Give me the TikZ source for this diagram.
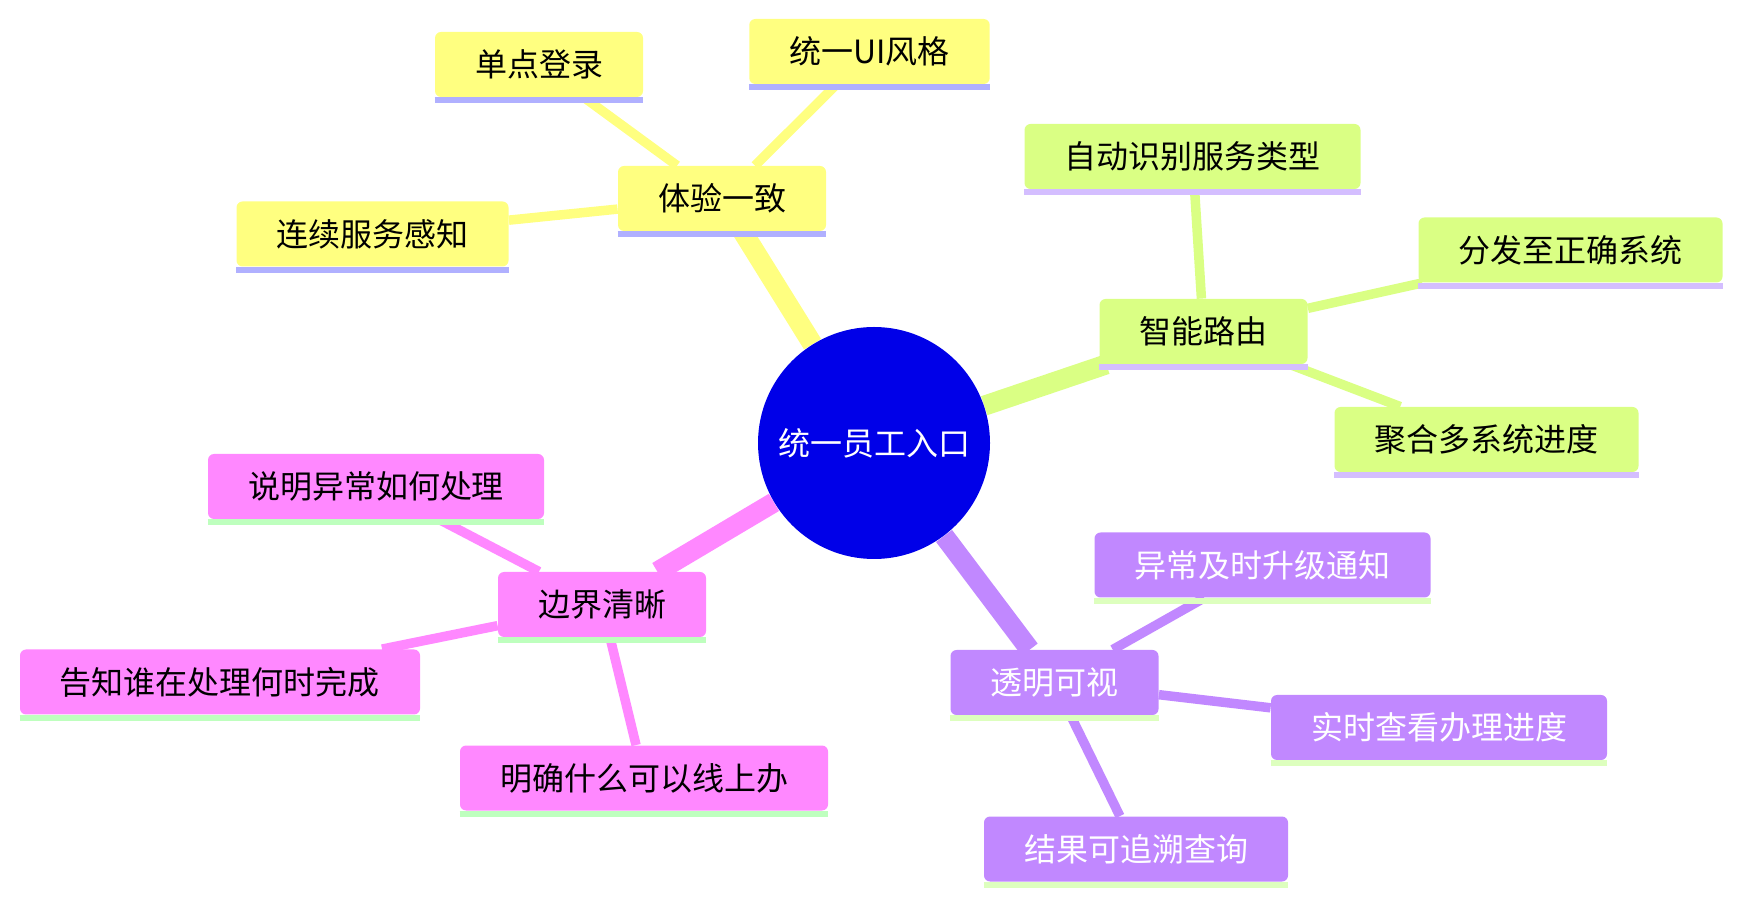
\documentclass[tikz,border=0pt]{standalone}
\usepackage{fontspec}
\newfontfamily\cjk{Noto Sans CJK SC}
\usepackage{tikz}
\usetikzlibrary{backgrounds}
\definecolor{rootblue}{RGB}{0,0,232}
\definecolor{yellowfill}{RGB}{255,255,128}
\definecolor{yellowbar}{RGB}{176,176,255}
\definecolor{greenfill}{RGB}{218,255,132}
\definecolor{greenbar}{RGB}{212,190,255}
\definecolor{purplefill}{RGB}{193,136,255}
\definecolor{purplebar}{RGB}{221,255,190}
\definecolor{pinkfill}{RGB}{255,136,255}
\definecolor{pinkbar}{RGB}{190,255,190}
\tikzset{
  root/.style={
    circle, fill=rootblue, minimum size=116pt, inner sep=0pt,
    font=\cjk\fontsize{16}{19}\selectfont, text=white
  },
  topic/.style={
    rectangle, rounded corners=3pt, minimum height=32.5pt,
    inner xsep=20pt, inner ysep=0pt, font=\cjk\fontsize{16}{19}\selectfont
  },
  ytopic/.style={topic, fill=yellowfill, text=black},
  gtopic/.style={topic, fill=greenfill, text=black},
  ptopic/.style={topic, fill=purplefill, text=white},
  mtopic/.style={topic, fill=pinkfill, text=black},
  trunk/.style={draw=#1, line width=10pt},
  twig/.style={draw=#1, line width=4.75pt},
}
\begin{document}
\begin{tikzpicture}[x=0.5pt, y=-0.5pt]
  \useasboundingbox (0,0) rectangle (1742,903);
  \node[root] (entry) at (874,443) {统一员工入口};
  % experience branch
  \node[ytopic] (tiyan) at (722,198.5) {体验一致};
  \node[ytopic] (sso) at (539,64.5) {单点登录};
  \node[ytopic] (uistyle) at (869.5,51.5) {统一UI风格};
  \node[ytopic] (aware) at (372.5,234) {连续服务感知};
  % routing branch
  \node[gtopic] (route) at (1203.5,331.5) {智能路由};
  \node[gtopic] (detect) at (1192.5,156.5) {自动识别服务类型};
  \node[gtopic] (dispatch) at (1570.5,250) {分发至正确系统};
  \node[gtopic] (merge) at (1486.5,439.5) {聚合多系统进度};
  % transparency branch
  \node[ptopic] (visible) at (1054.5,682.5) {透明可视};
  \node[ptopic] (alert) at (1262.5,565) {异常及时升级通知};
  \node[ptopic] (progress) at (1439,727.5) {实时查看办理进度};
  \node[ptopic] (trace) at (1136,849) {结果可追溯查询};
  % boundary branch
  \node[mtopic] (bound) at (602,604.5) {边界清晰};
  \node[mtopic] (explain) at (376,486.5) {说明异常如何处理};
  \node[mtopic] (inform) at (220,682) {告知谁在处理何时完成};
  \node[mtopic] (online) at (644,778) {明确什么可以线上办};

  \foreach \n/\c in {tiyan/yellowbar, sso/yellowbar, uistyle/yellowbar, aware/yellowbar,
                     route/greenbar, detect/greenbar, dispatch/greenbar, merge/greenbar,
                     visible/purplebar, alert/purplebar, progress/purplebar, trace/purplebar,
                     bound/pinkbar, explain/pinkbar, inform/pinkbar, online/pinkbar}
    \draw[\c, line width=3pt] ([yshift=-1.5pt]\n.south west) -- ([yshift=-1.5pt]\n.south east);

  \begin{pgfonlayer}{background}
    \draw[trunk=yellowfill] (entry) -- (tiyan);
    \draw[trunk=greenfill] (entry) -- (route);
    \draw[trunk=purplefill] (entry) -- (visible);
    \draw[trunk=pinkfill] (entry) -- (bound);
    \foreach \a/\b in {sso/tiyan, uistyle/tiyan, aware/tiyan}
      \draw[twig=yellowfill] (\a) -- (\b);
    \foreach \a/\b in {detect/route, dispatch/route, merge/route}
      \draw[twig=greenfill] (\a) -- (\b);
    \foreach \a/\b in {alert/visible, progress/visible, trace/visible}
      \draw[twig=purplefill] (\a) -- (\b);
    \foreach \a/\b in {explain/bound, inform/bound, online/bound}
      \draw[twig=pinkfill] (\a) -- (\b);
  \end{pgfonlayer}
\end{tikzpicture}
\end{document}
